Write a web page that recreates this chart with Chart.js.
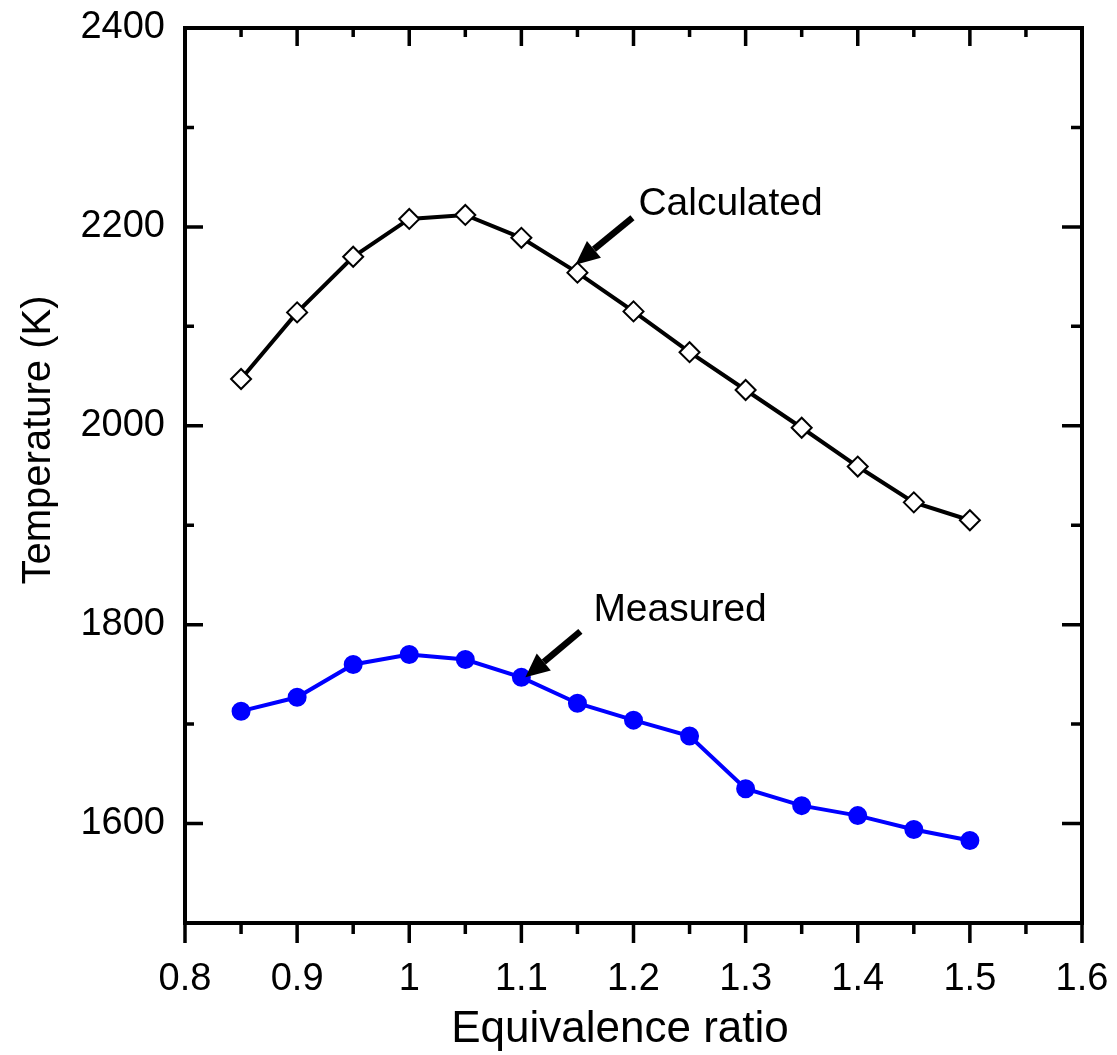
<!DOCTYPE html>
<html>
<head>
<meta charset="utf-8">
<title>Temperature vs equivalence ratio</title>
<script src="https://cdn.jsdelivr.net/npm/chart.js@4.4.1/dist/chart.umd.min.js"></script>
<style>
  html, body { margin: 0; padding: 0; background: #fff; }
  #wrap { width: 1117px; height: 1055px; }
</style>
</head>
<body>
<div id="wrap"><canvas id="tempChart" width="1117" height="1055"></canvas></div>
<script>
// equivalence ratio (phi)
const phi = [0.85, 0.9, 0.95, 1.0, 1.05, 1.1, 1.15, 1.2, 1.25, 1.3, 1.35, 1.4, 1.45, 1.5];
// temperature in K
const calculated = [2047, 2114, 2170, 2208, 2212, 2189, 2154, 2115, 2074, 2036, 1998, 1959, 1923, 1905];
const measured = [1713, 1727, 1760, 1770, 1765, 1747, 1721, 1704, 1688, 1635, 1618, 1608, 1594, 1583];

const xTicks = [0.8, 0.9, 1.0, 1.1, 1.2, 1.3, 1.4, 1.5, 1.6];
const xMinorTicks = [0.85, 0.95, 1.05, 1.15, 1.25, 1.35, 1.45, 1.55];
const yTicks = [1600, 1800, 2000, 2200, 2400];
const yMinorTicks = [1500, 1700, 1900, 2100, 2300];

const FONT = 'Liberation Sans, Arial, Helvetica, sans-serif';

// arrow + text callouts pointing at a given point of a dataset
const callouts = [
  { text: 'Calculated', dataset: 0, x: 1.15, tip: [-2, -8], tail: [57, -47], label: [63, -50] },
  { text: 'Measured', dataset: 1, x: 1.1, tip: [4, 0], tail: [55, -46], label: [68, -56] }
];

const frame = {
  id: 'frame',
  afterDraw(chart) {
    const { ctx, chartArea: a, scales: { x, y } } = chart;
    ctx.save();
    ctx.strokeStyle = '#000';
    ctx.lineCap = 'butt';

    // ticks: inside on top/left/right, outside on the bottom
    ctx.lineWidth = 3.5;
    const tick = (vals, len) => {
      vals.forEach(v => {
        const px = x.getPixelForValue(v);
        ctx.beginPath();
        ctx.moveTo(px, a.top); ctx.lineTo(px, a.top + len);
        ctx.moveTo(px, a.bottom); ctx.lineTo(px, a.bottom + len + 2);
        ctx.stroke();
      });
    };
    tick(xTicks, 18);
    tick(xMinorTicks, 9);
    const ytick = (vals, len) => {
      vals.forEach(v => {
        const py = y.getPixelForValue(v);
        ctx.beginPath();
        ctx.moveTo(a.left, py); ctx.lineTo(a.left + len, py);
        ctx.moveTo(a.right, py); ctx.lineTo(a.right - len - 2, py);
        ctx.stroke();
      });
    };
    ytick(yTicks, 18);
    ytick(yMinorTicks, 9);

    ctx.lineWidth = 4;
    ctx.strokeRect(a.left, a.top, a.right - a.left, a.bottom - a.top);

    // callouts
    callouts.forEach(c => {
      const i = phi.indexOf(c.x);
      const val = chart.data.datasets[c.dataset].data[i].y;
      const px = x.getPixelForValue(c.x) + c.tip[0];
      const py = y.getPixelForValue(val) + c.tip[1];
      const tx = px + c.tail[0], ty = py + c.tail[1];
      const ang = Math.atan2(py - ty, px - tx);
      const headLen = 24, headW = 11;
      const bx = px - headLen * Math.cos(ang), by = py - headLen * Math.sin(ang);
      ctx.lineWidth = 6.5;
      ctx.beginPath();
      ctx.moveTo(tx, ty); ctx.lineTo(bx, by);
      ctx.stroke();
      ctx.fillStyle = '#000';
      ctx.beginPath();
      ctx.moveTo(px, py);
      ctx.lineTo(bx + headW * Math.sin(ang), by - headW * Math.cos(ang));
      ctx.lineTo(bx - headW * Math.sin(ang), by + headW * Math.cos(ang));
      ctx.closePath();
      ctx.fill();

      ctx.font = '39px ' + FONT;
      ctx.textAlign = 'left';
      ctx.textBaseline = 'alphabetic';
      ctx.fillText(c.text, px + c.label[0], py + c.label[1]);
    });

    // axis titles
    ctx.fillStyle = '#000';
    ctx.font = '44px ' + FONT;
    ctx.textAlign = 'center';
    ctx.textBaseline = 'alphabetic';
    ctx.fillText('Equivalence ratio', 620, 1042);
    ctx.save();
    ctx.translate(50, 440);
    ctx.rotate(-Math.PI / 2);
    ctx.font = '40px ' + FONT;
    ctx.fillText('Temperature (K)', 0, 0);
    ctx.restore();

    ctx.restore();
  }
};

new Chart(document.getElementById('tempChart'), {
  type: 'line',
  data: {
    datasets: [{
      label: 'Calculated',
      data: phi.map((p, i) => ({ x: p, y: calculated[i] })),
      borderColor: '#000',
      borderWidth: 4,
      tension: 0,
      pointStyle: 'rectRot',
      pointRadius: 10,
      pointBackgroundColor: '#fff',
      pointBorderColor: '#000',
      pointBorderWidth: 2
    }, {
      label: 'Measured',
      data: phi.map((p, i) => ({ x: p, y: measured[i] })),
      borderColor: '#0000ff',
      borderWidth: 4,
      tension: 0,
      pointStyle: 'circle',
      pointRadius: 8.5,
      pointBackgroundColor: '#0000ff',
      pointBorderColor: '#0000ff',
      pointBorderWidth: 2
    }]
  },
  options: {
    responsive: false,
    animation: false,
    events: [],
    layout: { padding: { top: 28, right: 35, left: 0, bottom: 0 } },
    plugins: { legend: { display: false }, tooltip: { enabled: false } },
    scales: {
      x: {
        type: 'linear',
        min: 0.8,
        max: 1.6,
        grid: { display: false, drawTicks: false },
        border: { display: false },
        afterBuildTicks: s => { s.ticks = xTicks.map(v => ({ value: v })); },
        afterFit: s => { s.height = 132; s.paddingLeft = 0; s.paddingRight = 0; },
        ticks: {
          color: '#000',
          font: { family: FONT, size: 38 },
          padding: 34,
          maxRotation: 0,
          autoSkip: false,
          callback: v => String(v)
        }
      },
      y: {
        type: 'linear',
        min: 1500,
        max: 2400,
        grid: { display: false, drawTicks: false },
        border: { display: false },
        afterBuildTicks: s => { s.ticks = yTicks.map(v => ({ value: v })); },
        afterFit: s => { s.width = 185; s.paddingTop = 0; s.paddingBottom = 0; },
        ticks: {
          color: '#000',
          font: { family: FONT, size: 38 },
          padding: 20,
          autoSkip: false,
          callback: v => String(v)
        }
      }
    }
  },
  plugins: [frame]
});
</script>
</body>
</html>
